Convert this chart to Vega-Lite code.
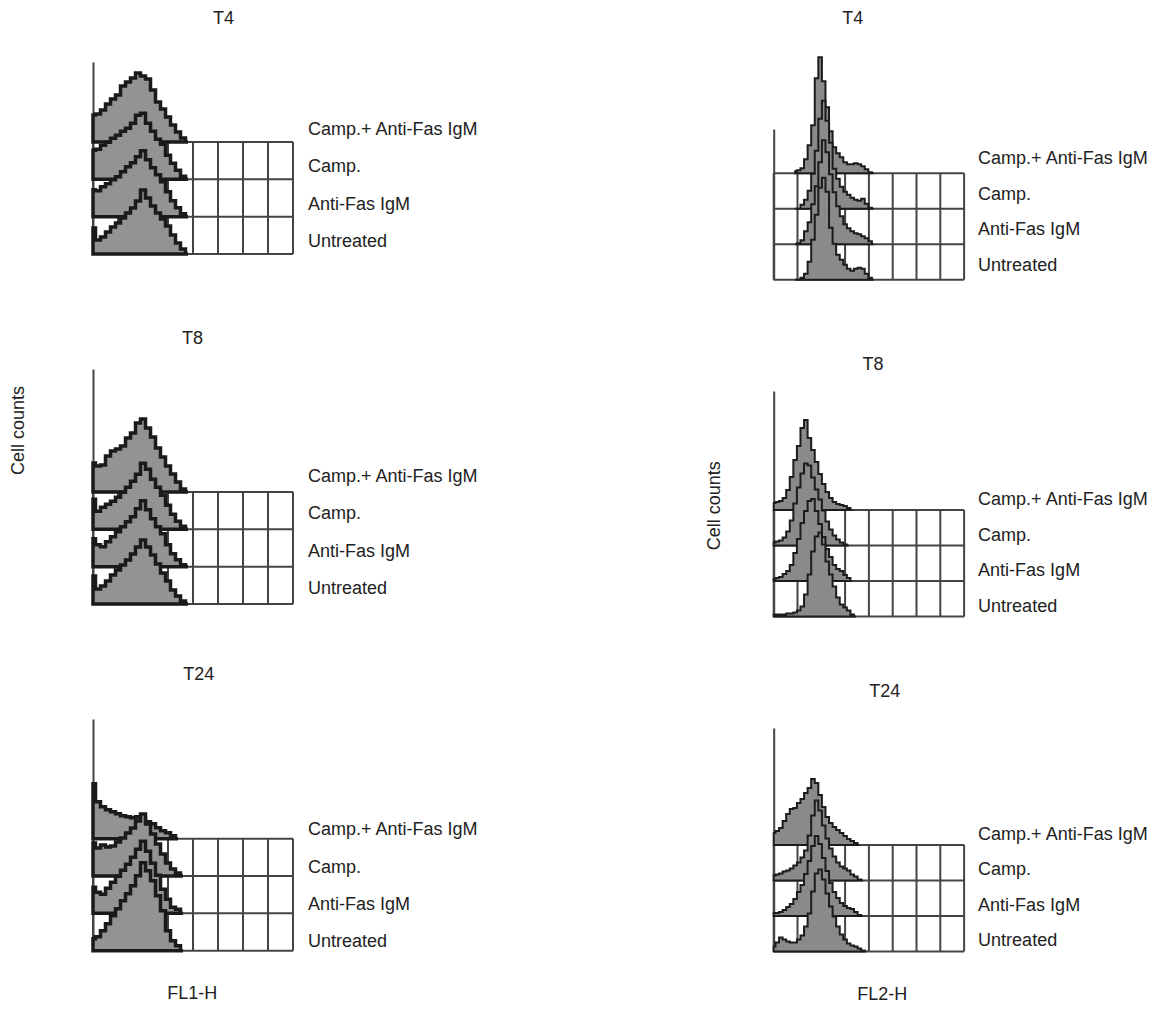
{
"$schema": "https://vega.github.io/schema/vega-lite/v6.json",
"background": "white",
"padding": {"left": 9, "top": 10, "right": 5, "bottom": 5},
"config": {
  "view": {"stroke": null},
  "font": "Liberation Sans",
  "axis": {"titleFontSize": 18, "titleFontWeight": "normal", "titleColor": "#222", "titleFont": "Liberation Sans"},
  "title": {"fontSize": 18, "fontWeight": "normal", "color": "#222", "font": "Liberation Sans"},
  "text": {"font": "Liberation Sans"}
},
"bounds": "flush",
"spacing": 680.7,
"datasets": {
  "cols": [{"x":0},{"x":1},{"x":2},{"x":3},{"x":4},{"x":5},{"x":6},{"x":7},{"x":8}],
  "rows": [{"series":"Camp.+ Anti-Fas IgM"},{"series":"Camp."},{"series":"Anti-Fas IgM"},{"series":"Untreated"}],
  "LT": [
    {"series":"Camp.+ Anti-Fas IgM","x":0,"n":27},{"series":"Camp.+ Anti-Fas IgM","x":0.2,"n":28},{"series":"Camp.+ Anti-Fas IgM","x":0.4,"n":32},{"series":"Camp.+ Anti-Fas IgM","x":0.6,"n":38},{"series":"Camp.+ Anti-Fas IgM","x":0.8,"n":43},{"series":"Camp.+ Anti-Fas IgM","x":1,"n":47},{"series":"Camp.+ Anti-Fas IgM","x":1.2,"n":56},{"series":"Camp.+ Anti-Fas IgM","x":1.4,"n":60},{"series":"Camp.+ Anti-Fas IgM","x":1.6,"n":64},{"series":"Camp.+ Anti-Fas IgM","x":1.8,"n":69},{"series":"Camp.+ Anti-Fas IgM","x":2,"n":66},{"series":"Camp.+ Anti-Fas IgM","x":2.2,"n":63},{"series":"Camp.+ Anti-Fas IgM","x":2.4,"n":52},{"series":"Camp.+ Anti-Fas IgM","x":2.6,"n":40},{"series":"Camp.+ Anti-Fas IgM","x":2.8,"n":33},{"series":"Camp.+ Anti-Fas IgM","x":3,"n":25},{"series":"Camp.+ Anti-Fas IgM","x":3.2,"n":17},{"series":"Camp.+ Anti-Fas IgM","x":3.4,"n":10},{"series":"Camp.+ Anti-Fas IgM","x":3.6,"n":4},{"series":"Camp.+ Anti-Fas IgM","x":3.8,"n":0},
    {"series":"Camp.","x":0,"n":29},{"series":"Camp.","x":0.2,"n":30},{"series":"Camp.","x":0.4,"n":34},{"series":"Camp.","x":0.6,"n":37},{"series":"Camp.","x":0.8,"n":41},{"series":"Camp.","x":1,"n":44},{"series":"Camp.","x":1.2,"n":48},{"series":"Camp.","x":1.4,"n":51},{"series":"Camp.","x":1.6,"n":56},{"series":"Camp.","x":1.8,"n":64},{"series":"Camp.","x":2,"n":66},{"series":"Camp.","x":2.2,"n":56},{"series":"Camp.","x":2.4,"n":48},{"series":"Camp.","x":2.6,"n":40},{"series":"Camp.","x":2.8,"n":35},{"series":"Camp.","x":3,"n":24},{"series":"Camp.","x":3.2,"n":16},{"series":"Camp.","x":3.4,"n":9},{"series":"Camp.","x":3.6,"n":3},{"series":"Camp.","x":3.8,"n":0},
    {"series":"Anti-Fas IgM","x":0,"n":27},{"series":"Anti-Fas IgM","x":0.2,"n":26},{"series":"Anti-Fas IgM","x":0.4,"n":30},{"series":"Anti-Fas IgM","x":0.6,"n":33},{"series":"Anti-Fas IgM","x":0.8,"n":37},{"series":"Anti-Fas IgM","x":1,"n":40},{"series":"Anti-Fas IgM","x":1.2,"n":45},{"series":"Anti-Fas IgM","x":1.4,"n":50},{"series":"Anti-Fas IgM","x":1.6,"n":54},{"series":"Anti-Fas IgM","x":1.8,"n":60},{"series":"Anti-Fas IgM","x":2,"n":66},{"series":"Anti-Fas IgM","x":2.2,"n":57},{"series":"Anti-Fas IgM","x":2.4,"n":49},{"series":"Anti-Fas IgM","x":2.6,"n":42},{"series":"Anti-Fas IgM","x":2.8,"n":35},{"series":"Anti-Fas IgM","x":3,"n":25},{"series":"Anti-Fas IgM","x":3.2,"n":16},{"series":"Anti-Fas IgM","x":3.4,"n":9},{"series":"Anti-Fas IgM","x":3.6,"n":3},{"series":"Anti-Fas IgM","x":3.8,"n":0},
    {"series":"Untreated","x":0,"n":26},{"series":"Untreated","x":0.2,"n":14},{"series":"Untreated","x":0.4,"n":17},{"series":"Untreated","x":0.6,"n":22},{"series":"Untreated","x":0.8,"n":27},{"series":"Untreated","x":1,"n":31},{"series":"Untreated","x":1.2,"n":36},{"series":"Untreated","x":1.4,"n":41},{"series":"Untreated","x":1.6,"n":46},{"series":"Untreated","x":1.8,"n":53},{"series":"Untreated","x":2,"n":64},{"series":"Untreated","x":2.2,"n":56},{"series":"Untreated","x":2.4,"n":48},{"series":"Untreated","x":2.6,"n":41},{"series":"Untreated","x":2.8,"n":35},{"series":"Untreated","x":3,"n":28},{"series":"Untreated","x":3.2,"n":19},{"series":"Untreated","x":3.4,"n":11},{"series":"Untreated","x":3.6,"n":5},{"series":"Untreated","x":3.8,"n":0}
  ],
  "LM": [
    {"series":"Camp.+ Anti-Fas IgM","x":0,"n":29},{"series":"Camp.+ Anti-Fas IgM","x":0.2,"n":26},{"series":"Camp.+ Anti-Fas IgM","x":0.4,"n":27},{"series":"Camp.+ Anti-Fas IgM","x":0.6,"n":36},{"series":"Camp.+ Anti-Fas IgM","x":0.8,"n":41},{"series":"Camp.+ Anti-Fas IgM","x":1,"n":43},{"series":"Camp.+ Anti-Fas IgM","x":1.2,"n":46},{"series":"Camp.+ Anti-Fas IgM","x":1.4,"n":54},{"series":"Camp.+ Anti-Fas IgM","x":1.6,"n":59},{"series":"Camp.+ Anti-Fas IgM","x":1.8,"n":69},{"series":"Camp.+ Anti-Fas IgM","x":2,"n":73},{"series":"Camp.+ Anti-Fas IgM","x":2.2,"n":64},{"series":"Camp.+ Anti-Fas IgM","x":2.4,"n":55},{"series":"Camp.+ Anti-Fas IgM","x":2.6,"n":44},{"series":"Camp.+ Anti-Fas IgM","x":2.8,"n":35},{"series":"Camp.+ Anti-Fas IgM","x":3,"n":26},{"series":"Camp.+ Anti-Fas IgM","x":3.2,"n":18},{"series":"Camp.+ Anti-Fas IgM","x":3.4,"n":10},{"series":"Camp.+ Anti-Fas IgM","x":3.6,"n":3},{"series":"Camp.+ Anti-Fas IgM","x":3.8,"n":0},
    {"series":"Camp.","x":0,"n":30},{"series":"Camp.","x":0.2,"n":18},{"series":"Camp.","x":0.4,"n":22},{"series":"Camp.","x":0.6,"n":25},{"series":"Camp.","x":0.8,"n":28},{"series":"Camp.","x":1,"n":32},{"series":"Camp.","x":1.2,"n":37},{"series":"Camp.","x":1.4,"n":42},{"series":"Camp.","x":1.6,"n":48},{"series":"Camp.","x":1.8,"n":55},{"series":"Camp.","x":2,"n":66},{"series":"Camp.","x":2.2,"n":60},{"series":"Camp.","x":2.4,"n":50},{"series":"Camp.","x":2.6,"n":42},{"series":"Camp.","x":2.8,"n":34},{"series":"Camp.","x":3,"n":24},{"series":"Camp.","x":3.2,"n":15},{"series":"Camp.","x":3.4,"n":8},{"series":"Camp.","x":3.6,"n":3},{"series":"Camp.","x":3.8,"n":0},
    {"series":"Anti-Fas IgM","x":0,"n":28},{"series":"Anti-Fas IgM","x":0.2,"n":22},{"series":"Anti-Fas IgM","x":0.4,"n":20},{"series":"Anti-Fas IgM","x":0.6,"n":25},{"series":"Anti-Fas IgM","x":0.8,"n":30},{"series":"Anti-Fas IgM","x":1,"n":35},{"series":"Anti-Fas IgM","x":1.2,"n":40},{"series":"Anti-Fas IgM","x":1.4,"n":45},{"series":"Anti-Fas IgM","x":1.6,"n":50},{"series":"Anti-Fas IgM","x":1.8,"n":58},{"series":"Anti-Fas IgM","x":2,"n":66},{"series":"Anti-Fas IgM","x":2.2,"n":57},{"series":"Anti-Fas IgM","x":2.4,"n":48},{"series":"Anti-Fas IgM","x":2.6,"n":40},{"series":"Anti-Fas IgM","x":2.8,"n":33},{"series":"Anti-Fas IgM","x":3,"n":22},{"series":"Anti-Fas IgM","x":3.2,"n":13},{"series":"Anti-Fas IgM","x":3.4,"n":7},{"series":"Anti-Fas IgM","x":3.6,"n":2},{"series":"Anti-Fas IgM","x":3.8,"n":0},
    {"series":"Untreated","x":0,"n":28},{"series":"Untreated","x":0.2,"n":15},{"series":"Untreated","x":0.4,"n":18},{"series":"Untreated","x":0.6,"n":23},{"series":"Untreated","x":0.8,"n":29},{"series":"Untreated","x":1,"n":34},{"series":"Untreated","x":1.2,"n":39},{"series":"Untreated","x":1.4,"n":44},{"series":"Untreated","x":1.6,"n":50},{"series":"Untreated","x":1.8,"n":57},{"series":"Untreated","x":2,"n":64},{"series":"Untreated","x":2.2,"n":57},{"series":"Untreated","x":2.4,"n":49},{"series":"Untreated","x":2.6,"n":40},{"series":"Untreated","x":2.8,"n":31},{"series":"Untreated","x":3,"n":23},{"series":"Untreated","x":3.2,"n":14},{"series":"Untreated","x":3.4,"n":8},{"series":"Untreated","x":3.6,"n":3},{"series":"Untreated","x":3.8,"n":0}
  ],
  "LB": [
    {"series":"Camp.+ Anti-Fas IgM","x":0,"n":55},{"series":"Camp.+ Anti-Fas IgM","x":0.2,"n":37},{"series":"Camp.+ Anti-Fas IgM","x":0.4,"n":32},{"series":"Camp.+ Anti-Fas IgM","x":0.6,"n":29},{"series":"Camp.+ Anti-Fas IgM","x":0.8,"n":27},{"series":"Camp.+ Anti-Fas IgM","x":1,"n":25},{"series":"Camp.+ Anti-Fas IgM","x":1.2,"n":23},{"series":"Camp.+ Anti-Fas IgM","x":1.4,"n":22},{"series":"Camp.+ Anti-Fas IgM","x":1.6,"n":21},{"series":"Camp.+ Anti-Fas IgM","x":1.8,"n":22},{"series":"Camp.+ Anti-Fas IgM","x":2,"n":20},{"series":"Camp.+ Anti-Fas IgM","x":2.2,"n":17},{"series":"Camp.+ Anti-Fas IgM","x":2.4,"n":15},{"series":"Camp.+ Anti-Fas IgM","x":2.6,"n":11},{"series":"Camp.+ Anti-Fas IgM","x":2.8,"n":8},{"series":"Camp.+ Anti-Fas IgM","x":3,"n":6},{"series":"Camp.+ Anti-Fas IgM","x":3.2,"n":3},{"series":"Camp.+ Anti-Fas IgM","x":3.4,"n":0},
    {"series":"Camp.","x":0,"n":33},{"series":"Camp.","x":0.2,"n":28},{"series":"Camp.","x":0.4,"n":31},{"series":"Camp.","x":0.6,"n":29},{"series":"Camp.","x":0.8,"n":30},{"series":"Camp.","x":1,"n":34},{"series":"Camp.","x":1.2,"n":38},{"series":"Camp.","x":1.4,"n":43},{"series":"Camp.","x":1.6,"n":48},{"series":"Camp.","x":1.8,"n":55},{"series":"Camp.","x":2,"n":62},{"series":"Camp.","x":2.2,"n":52},{"series":"Camp.","x":2.4,"n":42},{"series":"Camp.","x":2.6,"n":32},{"series":"Camp.","x":2.8,"n":22},{"series":"Camp.","x":3,"n":13},{"series":"Camp.","x":3.2,"n":7},{"series":"Camp.","x":3.4,"n":3},{"series":"Camp.","x":3.6,"n":0},
    {"series":"Anti-Fas IgM","x":0,"n":26},{"series":"Anti-Fas IgM","x":0.2,"n":21},{"series":"Anti-Fas IgM","x":0.4,"n":19},{"series":"Anti-Fas IgM","x":0.6,"n":25},{"series":"Anti-Fas IgM","x":0.8,"n":31},{"series":"Anti-Fas IgM","x":1,"n":37},{"series":"Anti-Fas IgM","x":1.2,"n":43},{"series":"Anti-Fas IgM","x":1.4,"n":49},{"series":"Anti-Fas IgM","x":1.6,"n":56},{"series":"Anti-Fas IgM","x":1.8,"n":64},{"series":"Anti-Fas IgM","x":2,"n":72},{"series":"Anti-Fas IgM","x":2.2,"n":62},{"series":"Anti-Fas IgM","x":2.4,"n":50},{"series":"Anti-Fas IgM","x":2.6,"n":38},{"series":"Anti-Fas IgM","x":2.8,"n":24},{"series":"Anti-Fas IgM","x":3,"n":14},{"series":"Anti-Fas IgM","x":3.2,"n":6},{"series":"Anti-Fas IgM","x":3.4,"n":4},{"series":"Anti-Fas IgM","x":3.6,"n":0},
    {"series":"Untreated","x":0,"n":12},{"series":"Untreated","x":0.2,"n":14},{"series":"Untreated","x":0.4,"n":20},{"series":"Untreated","x":0.6,"n":27},{"series":"Untreated","x":0.8,"n":35},{"series":"Untreated","x":1,"n":42},{"series":"Untreated","x":1.2,"n":50},{"series":"Untreated","x":1.4,"n":57},{"series":"Untreated","x":1.6,"n":65},{"series":"Untreated","x":1.8,"n":75},{"series":"Untreated","x":2,"n":88},{"series":"Untreated","x":2.2,"n":80},{"series":"Untreated","x":2.4,"n":70},{"series":"Untreated","x":2.6,"n":55},{"series":"Untreated","x":2.8,"n":40},{"series":"Untreated","x":3,"n":20},{"series":"Untreated","x":3.2,"n":10},{"series":"Untreated","x":3.4,"n":5},{"series":"Untreated","x":3.6,"n":0}
  ],
  "RT": [
    {"series":"Camp.+ Anti-Fas IgM","x":0.9,"n":2},{"series":"Camp.+ Anti-Fas IgM","x":1.05,"n":3},{"series":"Camp.+ Anti-Fas IgM","x":1.2,"n":5},{"series":"Camp.+ Anti-Fas IgM","x":1.35,"n":14},{"series":"Camp.+ Anti-Fas IgM","x":1.5,"n":28},{"series":"Camp.+ Anti-Fas IgM","x":1.65,"n":48},{"series":"Camp.+ Anti-Fas IgM","x":1.8,"n":95},{"series":"Camp.+ Anti-Fas IgM","x":1.95,"n":116},{"series":"Camp.+ Anti-Fas IgM","x":2.1,"n":92},{"series":"Camp.+ Anti-Fas IgM","x":2.25,"n":66},{"series":"Camp.+ Anti-Fas IgM","x":2.4,"n":42},{"series":"Camp.+ Anti-Fas IgM","x":2.55,"n":26},{"series":"Camp.+ Anti-Fas IgM","x":2.7,"n":20},{"series":"Camp.+ Anti-Fas IgM","x":2.85,"n":16},{"series":"Camp.+ Anti-Fas IgM","x":3,"n":11},{"series":"Camp.+ Anti-Fas IgM","x":3.15,"n":9},{"series":"Camp.+ Anti-Fas IgM","x":3.3,"n":9},{"series":"Camp.+ Anti-Fas IgM","x":3.45,"n":10},{"series":"Camp.+ Anti-Fas IgM","x":3.6,"n":9},{"series":"Camp.+ Anti-Fas IgM","x":3.75,"n":7},{"series":"Camp.+ Anti-Fas IgM","x":3.9,"n":4},{"series":"Camp.+ Anti-Fas IgM","x":4.05,"n":1},{"series":"Camp.+ Anti-Fas IgM","x":4.2,"n":0},
    {"series":"Camp.","x":0.9,"n":0},{"series":"Camp.","x":1.05,"n":0},{"series":"Camp.","x":1.2,"n":4},{"series":"Camp.","x":1.35,"n":9},{"series":"Camp.","x":1.5,"n":18},{"series":"Camp.","x":1.65,"n":35},{"series":"Camp.","x":1.8,"n":58},{"series":"Camp.","x":1.95,"n":90},{"series":"Camp.","x":2.1,"n":108},{"series":"Camp.","x":2.25,"n":88},{"series":"Camp.","x":2.4,"n":66},{"series":"Camp.","x":2.55,"n":40},{"series":"Camp.","x":2.7,"n":30},{"series":"Camp.","x":2.85,"n":22},{"series":"Camp.","x":3,"n":17},{"series":"Camp.","x":3.15,"n":14},{"series":"Camp.","x":3.3,"n":11},{"series":"Camp.","x":3.45,"n":9},{"series":"Camp.","x":3.6,"n":8},{"series":"Camp.","x":3.75,"n":10},{"series":"Camp.","x":3.9,"n":5},{"series":"Camp.","x":4.05,"n":1},{"series":"Camp.","x":4.2,"n":0},
    {"series":"Anti-Fas IgM","x":0.9,"n":0},{"series":"Anti-Fas IgM","x":1.05,"n":1},{"series":"Anti-Fas IgM","x":1.2,"n":4},{"series":"Anti-Fas IgM","x":1.35,"n":13},{"series":"Anti-Fas IgM","x":1.5,"n":22},{"series":"Anti-Fas IgM","x":1.65,"n":40},{"series":"Anti-Fas IgM","x":1.8,"n":58},{"series":"Anti-Fas IgM","x":1.95,"n":82},{"series":"Anti-Fas IgM","x":2.1,"n":104},{"series":"Anti-Fas IgM","x":2.25,"n":92},{"series":"Anti-Fas IgM","x":2.4,"n":70},{"series":"Anti-Fas IgM","x":2.55,"n":52},{"series":"Anti-Fas IgM","x":2.7,"n":38},{"series":"Anti-Fas IgM","x":2.85,"n":28},{"series":"Anti-Fas IgM","x":3,"n":20},{"series":"Anti-Fas IgM","x":3.15,"n":16},{"series":"Anti-Fas IgM","x":3.3,"n":13},{"series":"Anti-Fas IgM","x":3.45,"n":11},{"series":"Anti-Fas IgM","x":3.6,"n":10},{"series":"Anti-Fas IgM","x":3.75,"n":8},{"series":"Anti-Fas IgM","x":3.9,"n":6},{"series":"Anti-Fas IgM","x":4.05,"n":3},{"series":"Anti-Fas IgM","x":4.2,"n":0},
    {"series":"Untreated","x":0.9,"n":0},{"series":"Untreated","x":1.05,"n":0},{"series":"Untreated","x":1.2,"n":2},{"series":"Untreated","x":1.35,"n":6},{"series":"Untreated","x":1.5,"n":18},{"series":"Untreated","x":1.65,"n":40},{"series":"Untreated","x":1.8,"n":65},{"series":"Untreated","x":1.95,"n":92},{"series":"Untreated","x":2.1,"n":102},{"series":"Untreated","x":2.25,"n":88},{"series":"Untreated","x":2.4,"n":52},{"series":"Untreated","x":2.55,"n":36},{"series":"Untreated","x":2.7,"n":25},{"series":"Untreated","x":2.85,"n":20},{"series":"Untreated","x":3,"n":15},{"series":"Untreated","x":3.15,"n":11},{"series":"Untreated","x":3.3,"n":9},{"series":"Untreated","x":3.45,"n":11},{"series":"Untreated","x":3.6,"n":12},{"series":"Untreated","x":3.75,"n":11},{"series":"Untreated","x":3.9,"n":6},{"series":"Untreated","x":4.05,"n":2},{"series":"Untreated","x":4.2,"n":0}
  ],
  "RM": [
    {"series":"Camp.+ Anti-Fas IgM","x":0,"n":7},{"series":"Camp.+ Anti-Fas IgM","x":0.15,"n":8},{"series":"Camp.+ Anti-Fas IgM","x":0.3,"n":9},{"series":"Camp.+ Anti-Fas IgM","x":0.45,"n":12},{"series":"Camp.+ Anti-Fas IgM","x":0.6,"n":20},{"series":"Camp.+ Anti-Fas IgM","x":0.75,"n":33},{"series":"Camp.+ Anti-Fas IgM","x":0.9,"n":50},{"series":"Camp.+ Anti-Fas IgM","x":1.05,"n":64},{"series":"Camp.+ Anti-Fas IgM","x":1.2,"n":82},{"series":"Camp.+ Anti-Fas IgM","x":1.35,"n":90},{"series":"Camp.+ Anti-Fas IgM","x":1.5,"n":72},{"series":"Camp.+ Anti-Fas IgM","x":1.65,"n":60},{"series":"Camp.+ Anti-Fas IgM","x":1.8,"n":48},{"series":"Camp.+ Anti-Fas IgM","x":1.95,"n":36},{"series":"Camp.+ Anti-Fas IgM","x":2.1,"n":26},{"series":"Camp.+ Anti-Fas IgM","x":2.25,"n":18},{"series":"Camp.+ Anti-Fas IgM","x":2.4,"n":12},{"series":"Camp.+ Anti-Fas IgM","x":2.55,"n":8},{"series":"Camp.+ Anti-Fas IgM","x":2.7,"n":6},{"series":"Camp.+ Anti-Fas IgM","x":2.85,"n":5},{"series":"Camp.+ Anti-Fas IgM","x":3,"n":4},{"series":"Camp.+ Anti-Fas IgM","x":3.15,"n":2},{"series":"Camp.+ Anti-Fas IgM","x":3.3,"n":0},
    {"series":"Camp.","x":0,"n":3},{"series":"Camp.","x":0.15,"n":4},{"series":"Camp.","x":0.3,"n":5},{"series":"Camp.","x":0.45,"n":8},{"series":"Camp.","x":0.6,"n":14},{"series":"Camp.","x":0.75,"n":25},{"series":"Camp.","x":0.9,"n":42},{"series":"Camp.","x":1.05,"n":58},{"series":"Camp.","x":1.2,"n":72},{"series":"Camp.","x":1.35,"n":82},{"series":"Camp.","x":1.5,"n":80},{"series":"Camp.","x":1.65,"n":68},{"series":"Camp.","x":1.8,"n":56},{"series":"Camp.","x":1.95,"n":46},{"series":"Camp.","x":2.1,"n":35},{"series":"Camp.","x":2.25,"n":24},{"series":"Camp.","x":2.4,"n":16},{"series":"Camp.","x":2.55,"n":10},{"series":"Camp.","x":2.7,"n":6},{"series":"Camp.","x":2.85,"n":3},{"series":"Camp.","x":3,"n":1},{"series":"Camp.","x":3.15,"n":0},
    {"series":"Anti-Fas IgM","x":0,"n":2},{"series":"Anti-Fas IgM","x":0.15,"n":3},{"series":"Anti-Fas IgM","x":0.3,"n":4},{"series":"Anti-Fas IgM","x":0.45,"n":7},{"series":"Anti-Fas IgM","x":0.6,"n":10},{"series":"Anti-Fas IgM","x":0.75,"n":16},{"series":"Anti-Fas IgM","x":0.9,"n":28},{"series":"Anti-Fas IgM","x":1.05,"n":42},{"series":"Anti-Fas IgM","x":1.2,"n":58},{"series":"Anti-Fas IgM","x":1.35,"n":70},{"series":"Anti-Fas IgM","x":1.5,"n":80},{"series":"Anti-Fas IgM","x":1.65,"n":82},{"series":"Anti-Fas IgM","x":1.8,"n":70},{"series":"Anti-Fas IgM","x":1.95,"n":57},{"series":"Anti-Fas IgM","x":2.1,"n":44},{"series":"Anti-Fas IgM","x":2.25,"n":32},{"series":"Anti-Fas IgM","x":2.4,"n":24},{"series":"Anti-Fas IgM","x":2.55,"n":16},{"series":"Anti-Fas IgM","x":2.7,"n":12},{"series":"Anti-Fas IgM","x":2.85,"n":10},{"series":"Anti-Fas IgM","x":3,"n":6},{"series":"Anti-Fas IgM","x":3.15,"n":3},{"series":"Anti-Fas IgM","x":3.3,"n":0},
    {"series":"Untreated","x":0,"n":2},{"series":"Untreated","x":0.15,"n":2},{"series":"Untreated","x":0.3,"n":2},{"series":"Untreated","x":0.45,"n":2},{"series":"Untreated","x":0.6,"n":3},{"series":"Untreated","x":0.75,"n":3},{"series":"Untreated","x":0.9,"n":4},{"series":"Untreated","x":1.05,"n":6},{"series":"Untreated","x":1.2,"n":10},{"series":"Untreated","x":1.35,"n":22},{"series":"Untreated","x":1.5,"n":42},{"series":"Untreated","x":1.65,"n":65},{"series":"Untreated","x":1.8,"n":80},{"series":"Untreated","x":1.95,"n":84},{"series":"Untreated","x":2.1,"n":72},{"series":"Untreated","x":2.25,"n":55},{"series":"Untreated","x":2.4,"n":42},{"series":"Untreated","x":2.55,"n":30},{"series":"Untreated","x":2.7,"n":19},{"series":"Untreated","x":2.85,"n":12},{"series":"Untreated","x":3,"n":9},{"series":"Untreated","x":3.15,"n":6},{"series":"Untreated","x":3.3,"n":2},{"series":"Untreated","x":3.45,"n":0}
  ],
  "RB": [
    {"series":"Camp.+ Anti-Fas IgM","x":0,"n":12},{"series":"Camp.+ Anti-Fas IgM","x":0.15,"n":14},{"series":"Camp.+ Anti-Fas IgM","x":0.3,"n":17},{"series":"Camp.+ Anti-Fas IgM","x":0.45,"n":24},{"series":"Camp.+ Anti-Fas IgM","x":0.6,"n":31},{"series":"Camp.+ Anti-Fas IgM","x":0.75,"n":36},{"series":"Camp.+ Anti-Fas IgM","x":0.9,"n":37},{"series":"Camp.+ Anti-Fas IgM","x":1.05,"n":42},{"series":"Camp.+ Anti-Fas IgM","x":1.2,"n":46},{"series":"Camp.+ Anti-Fas IgM","x":1.35,"n":52},{"series":"Camp.+ Anti-Fas IgM","x":1.5,"n":57},{"series":"Camp.+ Anti-Fas IgM","x":1.65,"n":66},{"series":"Camp.+ Anti-Fas IgM","x":1.8,"n":62},{"series":"Camp.+ Anti-Fas IgM","x":1.95,"n":50},{"series":"Camp.+ Anti-Fas IgM","x":2.1,"n":38},{"series":"Camp.+ Anti-Fas IgM","x":2.25,"n":28},{"series":"Camp.+ Anti-Fas IgM","x":2.4,"n":22},{"series":"Camp.+ Anti-Fas IgM","x":2.55,"n":18},{"series":"Camp.+ Anti-Fas IgM","x":2.7,"n":15},{"series":"Camp.+ Anti-Fas IgM","x":2.85,"n":12},{"series":"Camp.+ Anti-Fas IgM","x":3,"n":9},{"series":"Camp.+ Anti-Fas IgM","x":3.15,"n":6},{"series":"Camp.+ Anti-Fas IgM","x":3.3,"n":4},{"series":"Camp.+ Anti-Fas IgM","x":3.45,"n":2},{"series":"Camp.+ Anti-Fas IgM","x":3.6,"n":0},
    {"series":"Camp.","x":0,"n":5},{"series":"Camp.","x":0.15,"n":6},{"series":"Camp.","x":0.3,"n":7},{"series":"Camp.","x":0.45,"n":9},{"series":"Camp.","x":0.6,"n":10},{"series":"Camp.","x":0.75,"n":12},{"series":"Camp.","x":0.9,"n":15},{"series":"Camp.","x":1.05,"n":18},{"series":"Camp.","x":1.2,"n":23},{"series":"Camp.","x":1.35,"n":30},{"series":"Camp.","x":1.5,"n":45},{"series":"Camp.","x":1.65,"n":65},{"series":"Camp.","x":1.8,"n":80},{"series":"Camp.","x":1.95,"n":70},{"series":"Camp.","x":2.1,"n":55},{"series":"Camp.","x":2.25,"n":42},{"series":"Camp.","x":2.4,"n":32},{"series":"Camp.","x":2.55,"n":24},{"series":"Camp.","x":2.7,"n":18},{"series":"Camp.","x":2.85,"n":14},{"series":"Camp.","x":3,"n":12},{"series":"Camp.","x":3.15,"n":10},{"series":"Camp.","x":3.3,"n":6},{"series":"Camp.","x":3.45,"n":4},{"series":"Camp.","x":3.6,"n":1},{"series":"Camp.","x":3.75,"n":0},
    {"series":"Anti-Fas IgM","x":0,"n":3},{"series":"Anti-Fas IgM","x":0.15,"n":3},{"series":"Anti-Fas IgM","x":0.3,"n":4},{"series":"Anti-Fas IgM","x":0.45,"n":6},{"series":"Anti-Fas IgM","x":0.6,"n":9},{"series":"Anti-Fas IgM","x":0.75,"n":12},{"series":"Anti-Fas IgM","x":0.9,"n":17},{"series":"Anti-Fas IgM","x":1.05,"n":24},{"series":"Anti-Fas IgM","x":1.2,"n":31},{"series":"Anti-Fas IgM","x":1.35,"n":42},{"series":"Anti-Fas IgM","x":1.5,"n":55},{"series":"Anti-Fas IgM","x":1.65,"n":70},{"series":"Anti-Fas IgM","x":1.8,"n":80},{"series":"Anti-Fas IgM","x":1.95,"n":72},{"series":"Anti-Fas IgM","x":2.1,"n":58},{"series":"Anti-Fas IgM","x":2.25,"n":45},{"series":"Anti-Fas IgM","x":2.4,"n":33},{"series":"Anti-Fas IgM","x":2.55,"n":24},{"series":"Anti-Fas IgM","x":2.7,"n":18},{"series":"Anti-Fas IgM","x":2.85,"n":13},{"series":"Anti-Fas IgM","x":3,"n":10},{"series":"Anti-Fas IgM","x":3.15,"n":8},{"series":"Anti-Fas IgM","x":3.3,"n":7},{"series":"Anti-Fas IgM","x":3.45,"n":4},{"series":"Anti-Fas IgM","x":3.6,"n":1},{"series":"Anti-Fas IgM","x":3.75,"n":0},
    {"series":"Untreated","x":0,"n":5},{"series":"Untreated","x":0.15,"n":9},{"series":"Untreated","x":0.3,"n":14},{"series":"Untreated","x":0.45,"n":12},{"series":"Untreated","x":0.6,"n":10},{"series":"Untreated","x":0.75,"n":9},{"series":"Untreated","x":0.9,"n":9},{"series":"Untreated","x":1.05,"n":12},{"series":"Untreated","x":1.2,"n":16},{"series":"Untreated","x":1.35,"n":25},{"series":"Untreated","x":1.5,"n":38},{"series":"Untreated","x":1.65,"n":60},{"series":"Untreated","x":1.8,"n":78},{"series":"Untreated","x":1.95,"n":82},{"series":"Untreated","x":2.1,"n":72},{"series":"Untreated","x":2.25,"n":58},{"series":"Untreated","x":2.4,"n":45},{"series":"Untreated","x":2.55,"n":35},{"series":"Untreated","x":2.7,"n":25},{"series":"Untreated","x":2.85,"n":17},{"series":"Untreated","x":3,"n":12},{"series":"Untreated","x":3.15,"n":8},{"series":"Untreated","x":3.3,"n":6},{"series":"Untreated","x":3.45,"n":5},{"series":"Untreated","x":3.6,"n":3},{"series":"Untreated","x":3.75,"n":1},{"series":"Untreated","x":3.9,"n":0}
  ]
},
"hconcat": [
  {"bounds": "flush", "spacing": 115, "vconcat": [
    {"width": 200, "height": 192,
     "title": {"text": "T4", "anchor": "start", "frame": "group", "align": "center", "baseline": "middle", "dx": 130.4, "offset": 25},
     "encoding": {
       "x": {"field": "x", "type": "quantitative", "scale": {"domain": [0, 8], "nice": false, "zero": false}, "axis": null},
       "y": {"field": "y", "type": "quantitative", "stack": null, "scale": {"domain": [0, 192], "nice": false, "zero": false}, "axis": {"domain": true, "domainColor": "#444", "domainWidth": 2, "ticks": false, "labels": false, "grid": false, "title": null}}
     },
     "layer": [
       {"data": {"name": "cols"}, "transform": [{"calculate": "0", "as": "y"}], "mark": {"type": "rule", "color": "#444", "strokeWidth": 2}, "encoding": {"y2": {"datum": 112}}},
       {"data": {"name": "rows"}, "transform": [{"calculate": "indexof(['Untreated','Anti-Fas IgM','Camp.','Camp.+ Anti-Fas IgM'], datum.series) * 37.33", "as": "y"}, {"calculate": "0", "as": "x"}], "mark": {"type": "rule", "color": "#444", "strokeWidth": 2}, "encoding": {"x2": {"datum": 8}}},
       {"data": {"name": "LT"}, "transform": [{"calculate": "indexof(['Untreated','Anti-Fas IgM','Camp.','Camp.+ Anti-Fas IgM'], datum.series) * 37.33", "as": "base"}, {"calculate": "datum.base + datum.n", "as": "y"}], "mark": {"type": "area", "interpolate": "step", "fill": "#939393", "stroke": "#1a1a1a", "strokeWidth": 3.5}, "encoding": {"y2": {"field": "base"}, "detail": {"field": "series"}}},
       {"data": {"name": "rows"}, "transform": [{"calculate": "indexof(['Untreated','Anti-Fas IgM','Camp.','Camp.+ Anti-Fas IgM'], datum.series) * 37.33", "as": "y"}, {"calculate": "8", "as": "x"}], "mark": {"type": "text", "align": "left", "baseline": "middle", "dx": 15, "dy": -12, "fontSize": 18, "color": "#222"}, "encoding": {"text": {"field": "series"}}}
     ]},
    {"width": 200, "height": 235,
     "title": {"text": "T8", "anchor": "start", "frame": "group", "align": "center", "baseline": "middle", "dx": 99.4, "offset": 12},
     "encoding": {
       "x": {"field": "x", "type": "quantitative", "scale": {"domain": [0, 8], "nice": false, "zero": false}, "axis": null},
       "y": {"field": "y", "type": "quantitative", "stack": null, "scale": {"domain": [0, 235], "nice": false, "zero": false}, "axis": {"domain": true, "domainColor": "#444", "domainWidth": 2, "ticks": false, "labels": false, "grid": false, "title": "Cell counts", "titleX": -75, "titleY": 61, "titleAlign": "center", "titleBaseline": "middle", "titleAngle": -90}}
     },
     "layer": [
       {"data": {"name": "cols"}, "transform": [{"calculate": "0", "as": "y"}], "mark": {"type": "rule", "color": "#444", "strokeWidth": 2}, "encoding": {"y2": {"datum": 112}}},
       {"data": {"name": "rows"}, "transform": [{"calculate": "indexof(['Untreated','Anti-Fas IgM','Camp.','Camp.+ Anti-Fas IgM'], datum.series) * 37.33", "as": "y"}, {"calculate": "0", "as": "x"}], "mark": {"type": "rule", "color": "#444", "strokeWidth": 2}, "encoding": {"x2": {"datum": 8}}},
       {"data": {"name": "LM"}, "transform": [{"calculate": "indexof(['Untreated','Anti-Fas IgM','Camp.','Camp.+ Anti-Fas IgM'], datum.series) * 37.33", "as": "base"}, {"calculate": "datum.base + datum.n", "as": "y"}], "mark": {"type": "area", "interpolate": "step", "fill": "#939393", "stroke": "#1a1a1a", "strokeWidth": 3.5}, "encoding": {"y2": {"field": "base"}, "detail": {"field": "series"}}},
       {"data": {"name": "rows"}, "transform": [{"calculate": "indexof(['Untreated','Anti-Fas IgM','Camp.','Camp.+ Anti-Fas IgM'], datum.series) * 37.33", "as": "y"}, {"calculate": "8", "as": "x"}], "mark": {"type": "text", "align": "left", "baseline": "middle", "dx": 15, "dy": -15, "fontSize": 18, "color": "#222"}, "encoding": {"text": {"field": "series"}}}
     ]},
    {"width": 200, "height": 231.7,
     "title": {"text": "T24", "anchor": "start", "frame": "group", "align": "center", "baseline": "middle", "dx": 105.7, "offset": 26},
     "encoding": {
       "x": {"field": "x", "type": "quantitative", "scale": {"domain": [0, 8], "nice": false, "zero": false}, "axis": {"domain": false, "ticks": false, "labels": false, "grid": false, "title": "FL1-H", "titleX": 98.7, "titleY": 43, "titleAlign": "center", "titleBaseline": "middle"}},
       "y": {"field": "y", "type": "quantitative", "stack": null, "scale": {"domain": [0, 231.7], "nice": false, "zero": false}, "axis": {"domain": true, "domainColor": "#444", "domainWidth": 2, "ticks": false, "labels": false, "grid": false, "title": null}}
     },
     "layer": [
       {"data": {"name": "cols"}, "transform": [{"calculate": "0", "as": "y"}], "mark": {"type": "rule", "color": "#444", "strokeWidth": 2}, "encoding": {"y2": {"datum": 112}}},
       {"data": {"name": "rows"}, "transform": [{"calculate": "indexof(['Untreated','Anti-Fas IgM','Camp.','Camp.+ Anti-Fas IgM'], datum.series) * 37.33", "as": "y"}, {"calculate": "0", "as": "x"}], "mark": {"type": "rule", "color": "#444", "strokeWidth": 2}, "encoding": {"x2": {"datum": 8}}},
       {"data": {"name": "LB"}, "transform": [{"calculate": "indexof(['Untreated','Anti-Fas IgM','Camp.','Camp.+ Anti-Fas IgM'], datum.series) * 37.33", "as": "base"}, {"calculate": "datum.base + datum.n", "as": "y"}], "mark": {"type": "area", "interpolate": "step", "fill": "#939393", "stroke": "#1a1a1a", "strokeWidth": 3.5}, "encoding": {"y2": {"field": "base"}, "detail": {"field": "series"}}},
       {"data": {"name": "rows"}, "transform": [{"calculate": "indexof(['Untreated','Anti-Fas IgM','Camp.','Camp.+ Anti-Fas IgM'], datum.series) * 37.33", "as": "y"}, {"calculate": "8", "as": "x"}], "mark": {"type": "text", "align": "left", "baseline": "middle", "dx": 15, "dy": -8.5, "fontSize": 18, "color": "#222"}, "encoding": {"text": {"field": "series"}}}
     ]}
  ]},
  {"bounds": "flush", "spacing": 111, "vconcat": [
    {"width": 190.4, "height": 217.7,
     "title": {"text": "T4", "anchor": "start", "frame": "group", "align": "center", "baseline": "middle", "dx": 79, "offset": 16},
     "encoding": {
       "x": {"field": "x", "type": "quantitative", "scale": {"domain": [0, 8], "nice": false, "zero": false}, "axis": null},
       "y": {"field": "y", "type": "quantitative", "stack": null, "scale": {"domain": [0, 150.7], "range": [217.7, 67], "nice": false, "zero": false}, "axis": {"domain": true, "domainColor": "#444", "domainWidth": 2, "ticks": false, "labels": false, "grid": false, "title": null}}
     },
     "layer": [
       {"data": {"name": "cols"}, "transform": [{"calculate": "0", "as": "y"}], "mark": {"type": "rule", "color": "#444", "strokeWidth": 2}, "encoding": {"y2": {"datum": 106.5}}},
       {"data": {"name": "rows"}, "transform": [{"calculate": "indexof(['Untreated','Anti-Fas IgM','Camp.','Camp.+ Anti-Fas IgM'], datum.series) * 35.5", "as": "y"}, {"calculate": "0", "as": "x"}], "mark": {"type": "rule", "color": "#444", "strokeWidth": 2}, "encoding": {"x2": {"datum": 8}}},
       {"data": {"name": "RT"}, "transform": [{"calculate": "indexof(['Untreated','Anti-Fas IgM','Camp.','Camp.+ Anti-Fas IgM'], datum.series) * 35.5", "as": "base"}, {"calculate": "datum.base + datum.n", "as": "y"}], "mark": {"type": "area", "interpolate": "step", "fill": "#8a8a8a", "stroke": "#1c1c1c", "strokeWidth": 2}, "encoding": {"y2": {"field": "base"}, "detail": {"field": "series"}}},
       {"data": {"name": "rows"}, "transform": [{"calculate": "indexof(['Untreated','Anti-Fas IgM','Camp.','Camp.+ Anti-Fas IgM'], datum.series) * 35.5", "as": "y"}, {"calculate": "8", "as": "x"}], "mark": {"type": "text", "align": "left", "baseline": "middle", "dx": 14, "dy": -14, "fontSize": 18, "color": "#222"}, "encoding": {"text": {"field": "series"}}}
     ]},
    {"width": 190.4, "height": 225.6,
     "title": {"text": "T8", "anchor": "start", "frame": "group", "align": "center", "baseline": "middle", "dx": 99.3, "offset": 7.7},
     "encoding": {
       "x": {"field": "x", "type": "quantitative", "scale": {"domain": [0, 8], "nice": false, "zero": false}, "axis": null},
       "y": {"field": "y", "type": "quantitative", "stack": null, "scale": {"domain": [0, 225.6], "nice": false, "zero": false}, "axis": {"domain": true, "domainColor": "#444", "domainWidth": 2, "ticks": false, "labels": false, "grid": false, "title": "Cell counts", "titleX": -59, "titleY": 114.3, "titleAlign": "center", "titleBaseline": "middle", "titleAngle": -90}}
     },
     "layer": [
       {"data": {"name": "cols"}, "transform": [{"calculate": "0", "as": "y"}], "mark": {"type": "rule", "color": "#444", "strokeWidth": 2}, "encoding": {"y2": {"datum": 106.5}}},
       {"data": {"name": "rows"}, "transform": [{"calculate": "indexof(['Untreated','Anti-Fas IgM','Camp.','Camp.+ Anti-Fas IgM'], datum.series) * 35.5", "as": "y"}, {"calculate": "0", "as": "x"}], "mark": {"type": "rule", "color": "#444", "strokeWidth": 2}, "encoding": {"x2": {"datum": 8}}},
       {"data": {"name": "RM"}, "transform": [{"calculate": "indexof(['Untreated','Anti-Fas IgM','Camp.','Camp.+ Anti-Fas IgM'], datum.series) * 35.5", "as": "base"}, {"calculate": "datum.base + datum.n", "as": "y"}], "mark": {"type": "area", "interpolate": "step", "fill": "#8a8a8a", "stroke": "#1c1c1c", "strokeWidth": 2}, "encoding": {"y2": {"field": "base"}, "detail": {"field": "series"}}},
       {"data": {"name": "rows"}, "transform": [{"calculate": "indexof(['Untreated','Anti-Fas IgM','Camp.','Camp.+ Anti-Fas IgM'], datum.series) * 35.5", "as": "y"}, {"calculate": "8", "as": "x"}], "mark": {"type": "text", "align": "left", "baseline": "middle", "dx": 14, "dy": -10, "fontSize": 18, "color": "#222"}, "encoding": {"text": {"field": "series"}}}
     ]},
    {"width": 190.4, "height": 223.4,
     "title": {"text": "T24", "anchor": "start", "frame": "group", "align": "center", "baseline": "middle", "dx": 111, "offset": 18.3},
     "encoding": {
       "x": {"field": "x", "type": "quantitative", "scale": {"domain": [0, 8], "nice": false, "zero": false}, "axis": {"domain": false, "ticks": false, "labels": false, "grid": false, "title": "FL2-H", "titleX": 108, "titleY": 43, "titleAlign": "center", "titleBaseline": "middle"}},
       "y": {"field": "y", "type": "quantitative", "stack": null, "scale": {"domain": [0, 223.4], "nice": false, "zero": false}, "axis": {"domain": true, "domainColor": "#444", "domainWidth": 2, "ticks": false, "labels": false, "grid": false, "title": null}}
     },
     "layer": [
       {"data": {"name": "cols"}, "transform": [{"calculate": "0", "as": "y"}], "mark": {"type": "rule", "color": "#444", "strokeWidth": 2}, "encoding": {"y2": {"datum": 106.5}}},
       {"data": {"name": "rows"}, "transform": [{"calculate": "indexof(['Untreated','Anti-Fas IgM','Camp.','Camp.+ Anti-Fas IgM'], datum.series) * 35.5", "as": "y"}, {"calculate": "0", "as": "x"}], "mark": {"type": "rule", "color": "#444", "strokeWidth": 2}, "encoding": {"x2": {"datum": 8}}},
       {"data": {"name": "RB"}, "transform": [{"calculate": "indexof(['Untreated','Anti-Fas IgM','Camp.','Camp.+ Anti-Fas IgM'], datum.series) * 35.5", "as": "base"}, {"calculate": "datum.base + datum.n", "as": "y"}], "mark": {"type": "area", "interpolate": "step", "fill": "#8a8a8a", "stroke": "#1c1c1c", "strokeWidth": 2}, "encoding": {"y2": {"field": "base"}, "detail": {"field": "series"}}},
       {"data": {"name": "rows"}, "transform": [{"calculate": "indexof(['Untreated','Anti-Fas IgM','Camp.','Camp.+ Anti-Fas IgM'], datum.series) * 35.5", "as": "y"}, {"calculate": "8", "as": "x"}], "mark": {"type": "text", "align": "left", "baseline": "middle", "dx": 14, "dy": -10, "fontSize": 18, "color": "#222"}, "encoding": {"text": {"field": "series"}}}
     ]}
  ]}
]
}
